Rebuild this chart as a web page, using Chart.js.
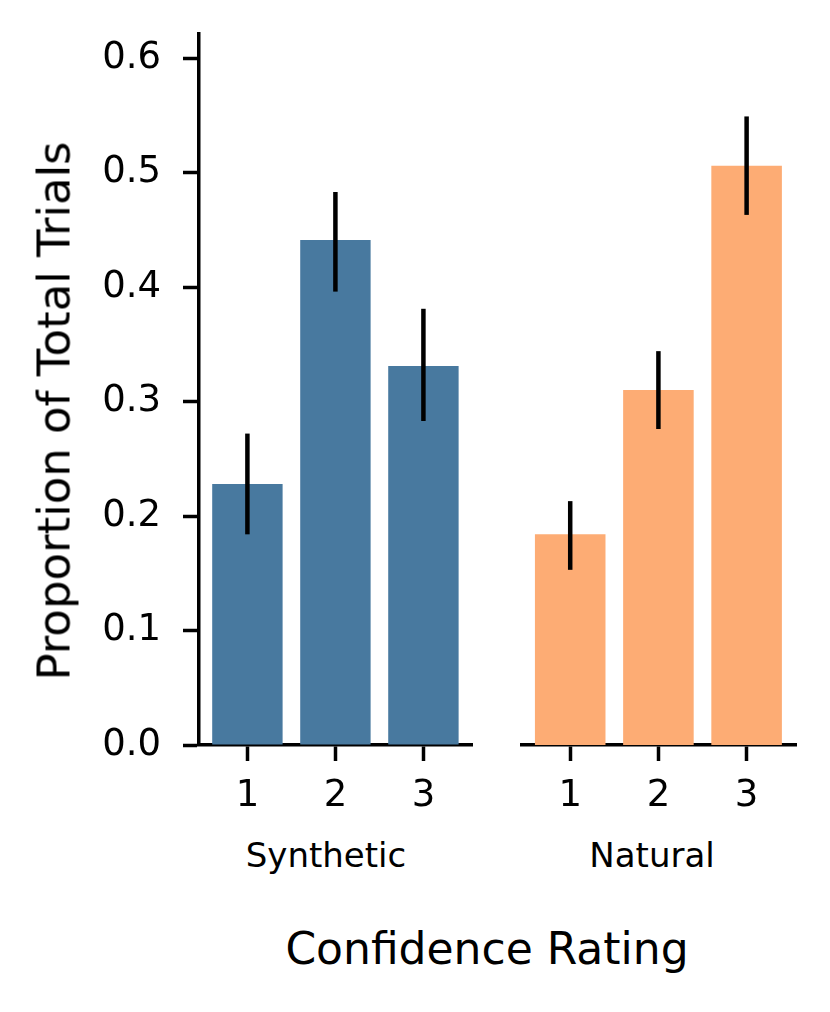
<!DOCTYPE html>
<html>
<head>
<meta charset="utf-8">
<script src="https://cdn.jsdelivr.net/npm/chart.js@4/dist/chart.umd.min.js"></script>
<style>
  body { margin: 0; background: #fff; }
  #wrap { position: relative; width: 830px; height: 1012px; overflow: hidden; font-family: "DejaVu Sans", sans-serif; color: #000; }
  canvas { position: absolute; top: 0; }
  .lbl { position: absolute; line-height: 1; white-space: nowrap; }
</style>
</head>
<body>
<div id="wrap">
  <canvas id="synth" width="480" height="830" style="left:0;width:480px;height:830px"></canvas>
  <canvas id="nat" width="350" height="830" style="left:480px;width:350px;height:830px"></canvas>
  <div class="lbl" style="font-size:45px;left:54px;top:411px;transform:translate(-50%,-50%) rotate(-90deg)">Proportion of Total Trials</div>
  <div class="lbl" style="font-size:34px;left:326px;top:838px;transform:translateX(-50%)">Synthetic</div>
  <div class="lbl" style="font-size:34px;left:652px;top:838px;transform:translateX(-50%)">Natural</div>
  <div class="lbl" style="font-size:44px;left:487px;top:927px;transform:translateX(-50%)">Confidence Rating</div>
</div>
<script>
// confidence ratings
const ratings = ["1", "2", "3"];

// synthetic condition
const synthVals = [0.228, 0.441, 0.331];
const synthLo = [0.184, 0.396, 0.283];
const synthHi = [0.272, 0.483, 0.381];

// natural condition
const natVals = [0.184, 0.310, 0.506];
const natLo = [0.153, 0.276, 0.463];
const natHi = [0.213, 0.344, 0.549];

const yTicks = [0, 0.1, 0.2, 0.3, 0.4, 0.5, 0.6];

// draws the black error bars on top of the bars
const errBars = {
    id: 'errbars',
    afterDatasetsDraw(chart, args, opts) {
        const ctx = chart.ctx;
        const y = chart.scales.y;
        const meta = chart.getDatasetMeta(0);
        ctx.save();
        ctx.strokeStyle = '#000';
        ctx.lineWidth = 4.5;
        meta.data.forEach(function (bar, i) {
            ctx.beginPath();
            ctx.moveTo(bar.x, y.getPixelForValue(opts.lo[i]));
            ctx.lineTo(bar.x, y.getPixelForValue(opts.hi[i]));
            ctx.stroke();
        });
        ctx.restore();
    }
};

function xAxis() {
    return {
        type: 'linear',
        min: -0.55,
        max: 2.56,
        offset: false,
        afterFit: function (s) { s.height = 85; s.paddingLeft = 0; s.paddingRight = 0; },
        ticks: {
            stepSize: 1,
            includeBounds: false,
            autoSkip: false,
            maxRotation: 0,
            padding: 13,
            color: '#000',
            font: { family: 'DejaVu Sans', size: 37 },
            callback: function (v) { return ratings[v]; }
        },
        grid: { offset: false, drawOnChartArea: false, tickLength: 16, tickWidth: 3.5, tickColor: '#000' },
        border: { color: '#000', width: 3.5 }
    };
}

function yAxis(show) {
    return {
        display: show,
        min: 0,
        max: 0.621,
        afterFit: function (s) {
            if (show) s.width = 199;
            s.paddingTop = 0;
            s.paddingBottom = 0;
        },
        afterBuildTicks: function (s) { s.ticks = yTicks.map(function (v) { return { value: v }; }); },
        ticks: {
            padding: 22,
            color: '#000',
            font: { family: 'DejaVu Sans', size: 37 },
            callback: function (v) { return v.toFixed(1); }
        },
        grid: { drawOnChartArea: false, tickLength: 16, tickWidth: 3.5, tickColor: '#000' },
        border: { color: '#000', width: 3.5 }
    };
}

function points(vals) {
    return vals.map(function (v, i) { return { x: i, y: v }; });
}

new Chart(document.getElementById("synth"), {
    type: 'bar',
    data: {
        datasets: [{
            label: "Synthetic",
            backgroundColor: "#48799f",
            data: points(synthVals),
            categoryPercentage: 1,
            barPercentage: 0.8
        }]
    },
    options: {
        responsive: false,
        animation: false,
        layout: { padding: { top: 34, right: 7.3, left: 0, bottom: 0 } },
        plugins: {
            legend: { display: false },
            tooltip: { enabled: false },
            errbars: { lo: synthLo, hi: synthHi }
        },
        scales: { x: xAxis(), y: yAxis(true) }
    },
    plugins: [errBars]
});

new Chart(document.getElementById("nat"), {
    type: 'bar',
    data: {
        datasets: [{
            label: "Natural",
            backgroundColor: "#fdac74",
            data: points(natVals),
            categoryPercentage: 1,
            barPercentage: 0.8
        }]
    },
    options: {
        responsive: false,
        animation: false,
        layout: { padding: { top: 34, right: 34, left: 41.7, bottom: 0 } },
        plugins: {
            legend: { display: false },
            tooltip: { enabled: false },
            errbars: { lo: natLo, hi: natHi }
        },
        scales: { x: xAxis(), y: yAxis(false) }
    },
    plugins: [errBars]
});
</script>
</body>
</html>
